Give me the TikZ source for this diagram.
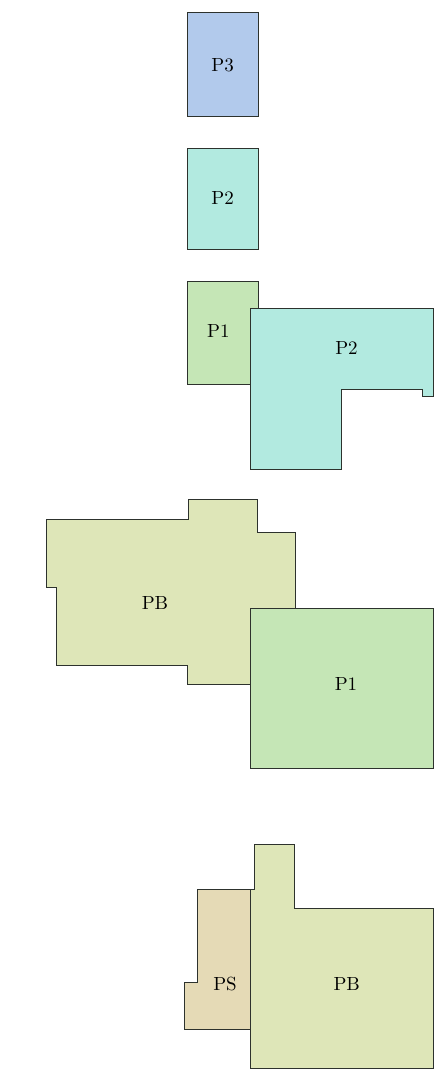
\documentclass[tikz,border=0pt]{standalone}
\usepackage{fontspec}
\newfontfamily\lblfont{lmroman10-regular.otf}
\definecolor{cP3}{RGB}{178,202,236}
\definecolor{cP2}{RGB}{178,234,224}
\definecolor{cP1}{RGB}{197,230,182}
\definecolor{cPB}{RGB}{222,230,184}
\definecolor{cPS}{RGB}{229,218,182}
\definecolor{edge}{RGB}{45,50,45}
\tikzset{
  plate/.style={draw=edge, line width=0.8pt, line join=miter},
  lbl/.style={font=\lblfont\fontsize{19}{21}\selectfont, text=black, inner sep=0pt}
}
\begin{document}
\begin{tikzpicture}[x=1pt,y=-1pt]
\useasboundingbox (0,0) rectangle (446,1079);
% Group 1: P3
\path[plate, fill=cP3] (187.3,12.7) rectangle (258,116.7);
\node[lbl] (p3) at (222.6,65) {P3};
% Group 2: P2
\path[plate, fill=cP2] (187.3,148) rectangle (258,249);
\node[lbl] (p2a) at (222.6,198) {P2};
% Group 3: P1 + P2 L-shape
\path[plate, fill=cP1] (187.3,281) rectangle (258,384.3);
\node[lbl] (p1a) at (218.3,331) {P1};
\path[plate, fill=cP2] (250.7,308.3) -- (433.3,308.3) -- (433.3,396.7) -- (422.3,396.7)
  -- (422.3,389.3) -- (341.7,389.3) -- (341.7,469) -- (250.7,469) -- cycle;
\node[lbl] (p2b) at (346.5,348) {P2};
% Group 4: PB + P1
\path[plate, fill=cPB] (46,519.3) -- (188.3,519.3) -- (188.3,499) -- (257.7,499) -- (257.7,532.3)
  -- (295,532.3) -- (295,610) -- (250.7,610) -- (250.7,684) -- (187.7,684) -- (187.7,665)
  -- (56.7,665) -- (56.7,587.7) -- (46,587.7) -- cycle;
\node[lbl] (pba) at (155,603) {PB};
\path[plate, fill=cP1] (250.7,608.3) rectangle (433.3,768.3);
\node[lbl] (p1b) at (346,684) {P1};
% Group 5: PS + PB
\path[plate, fill=cPS] (197.3,889.3) -- (250.7,889.3) -- (250.7,1029) -- (184.3,1029)
  -- (184.3,982.7) -- (197.3,982.7) -- cycle;
\node[lbl] (ps) at (225,984) {PS};
\path[plate, fill=cPB] (254.3,844.7) -- (294,844.7) -- (294,908.3) -- (433.3,908.3)
  -- (433.3,1068.7) -- (250.7,1068.7) -- (250.7,889.3) -- (254.3,889.3) -- cycle;
\node[lbl] (pbb) at (346.7,984) {PB};
\end{tikzpicture}
\end{document}
